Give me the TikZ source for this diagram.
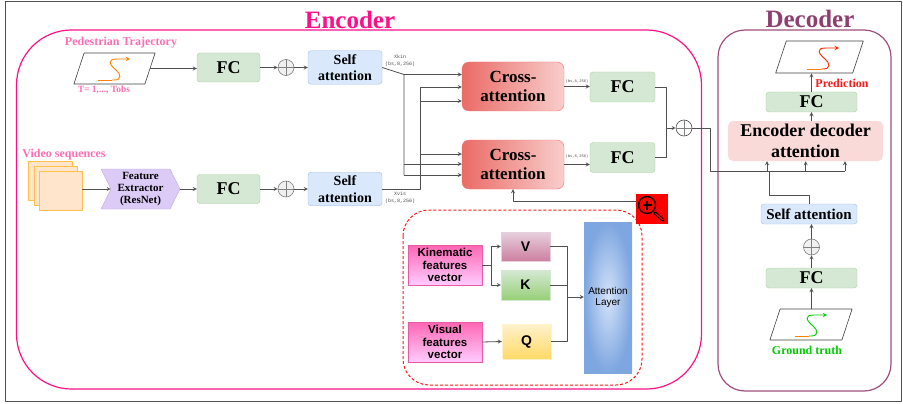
\documentclass[tikz,border=0pt]{standalone}
\usepackage{fontspec}
\setmainfont{Liberation Serif}
\setsansfont{Liberation Sans}
\setmonofont{Liberation Mono}
\usetikzlibrary{shapes.symbols}
\definecolor{lineg}{HTML}{505050}
\definecolor{enccol}{HTML}{FF1088}
\definecolor{deccol}{HTML}{A04F7C}
\definecolor{dectext}{HTML}{8F3F6E}
\definecolor{labpink}{HTML}{FF6EB4}
\definecolor{fcedge}{HTML}{A9CF9A}
\definecolor{fcback}{HTML}{D5E8D4}
\definecolor{selfedge}{HTML}{9DBCE8}
\definecolor{selfback}{HTML}{DAE8FC}
\definecolor{crossedge}{HTML}{FF6F6F}
\definecolor{crossl}{HTML}{EA6B66}
\definecolor{crossr}{HTML}{F8CECC}
\definecolor{vecedge}{HTML}{E85AA5}
\definecolor{vectop}{HTML}{FF66B3}
\definecolor{vecbot}{HTML}{FFCCFF}
\definecolor{vtop}{HTML}{E6D0DE}
\definecolor{vbot}{HTML}{CD7FA0}
\definecolor{kbot}{HTML}{97D077}
\definecolor{qtop}{HTML}{FFF2CC}
\definecolor{qbot}{HTML}{FFD966}
\definecolor{attout}{HTML}{7EA6E0}
\definecolor{attin}{HTML}{D4E3F9}
\definecolor{featback}{HTML}{DCCBF6}
\definecolor{featedge}{HTML}{BBA5E2}
\newcommand{\fsz}[2]{\fontsize{#1}{#2}\selectfont}
\begin{document}
\begin{tikzpicture}[x=1pt,y=-1pt,line join=round,>=stealth,
    arr/.style={->,draw=lineg,line width=.8pt},
    wire/.style={draw=lineg,line width=.8pt},
    base/.style={inner sep=0pt,align=center},
    fcbox/.style={base,rounded corners=3pt,draw=fcedge,fill=fcback,font=\bfseries\fsz{18}{18}},
    selfbox/.style={base,rounded corners=3pt,draw=selfedge,fill=selfback},
    crossbox/.style={base,rounded corners=7pt,draw=crossedge,left color=crossl,right color=crossr,
        minimum width=102,minimum height=49,font=\bfseries\fsz{17}{19}},
    para/.style={xslant=.33,transform shape,draw=black!75,line width=.6pt,inner sep=0pt},
    sum/.style={circle,draw=gray,fill=black!6,minimum size=16,inner sep=0pt,line width=.6pt},
    sumb/.style={circle,draw=black!70,minimum size=16,inner sep=0pt,line width=.6pt},
    vecbox/.style={font=\sffamily\bfseries\fsz{11.5}{12.8},align=center,inner sep=0pt,draw=vecedge,
        top color=vectop,bottom color=vecbot,minimum width=74,minimum height=40},
    keybox/.style={font=\sffamily\bfseries\fsz{14}{14},inner sep=0pt,minimum width=49},
    head/.style={font=\bfseries\fsz{12}{12},inner sep=0pt},
    tiny/.style={font=\ttfamily\fsz{5}{7},align=center,inner sep=0pt,text=black!70}]
\useasboundingbox (0,0) rectangle (903,404);
\draw[lineg,line width=1pt] (5.5,2) rectangle (901,401);
\draw[enccol,line width=1.2pt,rounded corners=55pt] (16.5,30) rectangle (701.5,389);
\draw[deccol,line width=1.2pt,rounded corners=27pt] (718,30) rectangle (891,391);
\node[font=\bfseries\fsz{25}{25},text=enccol,inner sep=0pt] (enctitle) at (350,20) {Encoder};
\node[font=\bfseries\fsz{25}{25},text=dectext,inner sep=0pt] (dectitle) at (810,19) {Decoder};
% inputs
\node[head,text=labpink] (trajlab) at (121,43) {Pedestrian Trajectory};
\node[para,minimum width=71,minimum height=31] (traj) at (114.5,68.5) {};
\node[font=\bfseries\fsz{9.5}{9.5},text=labpink,inner sep=0pt] (tobs) at (104,90) {T= 1,..., Tobs};
\node[head,text=labpink] (vidlab) at (64,155) {Video sequences};
\foreach \n/\x/\y in {vida/50/180.5,vidb/55.5/185.5,vidc/60.5/190.5}
    \node[draw=orange!70!yellow!70,fill=orange!20!white,minimum width=43.5,minimum height=39,inner sep=0pt] (\n) at (\x,\y) {};
\node[signal,signal to=east,signal from=west,signal pointer angle=127,draw=featedge,fill=featback,
    minimum width=79,minimum height=40,inner sep=0pt,font=\bfseries\fsz{11}{12.3},align=center] (feat) at (140.5,189)
    {Feature\\Extractor\\(ResNet)};
\foreach \n/\y in {fca/67.5,fcb/189}
    \node[fcbox,minimum width=63,minimum height=29] (\n) at (228.5,\y) {FC};
\node[sum] (suma) at (286,67.5) {};
\node[sum] (sumb) at (286,189) {};
\foreach \n/\y in {sela/67.5,selb/189}
    \node[selfbox,minimum width=74,minimum height=33.5,font=\bfseries\fsz{14}{16.5}] (\n) at (345,\y) {Self\\attention};
\node[tiny] (kinlab) at (400,60.5) {Xkin\\(bs,8,256)};
\node[tiny] (vislab) at (400,197.5) {Xvis\\(bs,8,256)};
\node[crossbox] (crossa) at (513,86.5) {Cross-\\attention};
\node[crossbox] (crossb) at (513,164.5) {Cross-\\attention};
\node[fcbox,minimum width=65,minimum height=30] (fcc) at (622.5,87) {FC};
\node[fcbox,minimum width=65,minimum height=30] (fcd) at (622.5,157.5) {FC};
\node[tiny,font=\ttfamily\fsz{3.8}{4}] (outa) at (577,82) {(bs,8,256)};
\node[tiny,font=\ttfamily\fsz{3.8}{4}] (outb) at (577,157) {(bs,8,256)};
\node[sumb] (sumc) at (684,128) {};
% attention block
\draw[red!90,line width=1pt,dash pattern=on 3pt off 2pt,rounded corners=26pt] (403,210) rectangle (642,385);
\node[vecbox] (kinvec) at (445,265) {Kinematic\\features\\vector};
\node[vecbox] (visvec) at (445,342) {Visual\\features\\vector};
\node[keybox,minimum height=29,draw=vtop,top color=vtop,bottom color=vbot] (keyv) at (525.5,246.5) {V};
\node[keybox,minimum height=30,draw=fcback,top color=fcback,bottom color=kbot] (keyk) at (525.5,285) {K};
\node[keybox,minimum height=35,draw=qtop,top color=qtop,bottom color=qbot] (keyq) at (526.5,341.5) {Q};
\node[inner sep=0pt,minimum width=48,minimum height=151,inner color=attin,outer color=attout,
    font=\sffamily\fsz{10}{11.5},align=center] (attlayer) at (608,297.5) {Attention\\Layer};
\node[fill=red,minimum width=32,minimum height=30,inner sep=0pt] (zoomtag) at (652,209) {};
\draw[line width=1.4pt] (647,205) circle (8.5);
\draw[line width=1.2pt] (642.5,205) -- (651.5,205) (647,200.5) -- (647,209.5);
\draw[line width=3.2pt,line cap=round] (655,213) -- (663,220);
\draw[red,line width=1.2pt,line cap=round] (655.5,213.5) -- (662.5,219.5);
% decoder
\node[para,minimum width=77,minimum height=32] (predpar) at (819.5,57) {};
\node[head,text=red!90] (predlab) at (842,83) {Prediction};
\node[fcbox,minimum width=91,minimum height=20] (fce) at (811.5,102) {FC};
\node[base,fill=crossr!75!white,rounded corners=5pt,minimum width=155,minimum height=40,font=\bfseries\fsz{18}{21}] (encdec) at (805.5,141) {Encoder decoder\\attention};
\node[selfbox,minimum width=96,minimum height=20,font=\bfseries\fsz{15}{15}] (selc) at (809,214) {Self attention};
\node[sum] (sumd) at (811.5,247) {};
\node[fcbox,minimum width=91,minimum height=20] (fcf) at (811.5,278) {FC};
\node[para,minimum width=72,minimum height=31] (gtpar) at (811,324.5) {};
\node[head,text=green!80!black] (gtlab) at (807,350) {Ground truth};
% the S curves
\foreach \cx/\cy/\cola/\colb in {98/80/orange/orange,807/69/orange/red!70!orange,795/336/orange/green!80!black} {
    \draw[\cola,line width=.9pt,shift={(\cx,\cy)}] (0,0) -- (14,0);
    \draw[->,\colb,line width=.9pt,shift={(\cx,\cy)}] (14,0) -- (16,0) .. controls (24,0) and (23,-6) .. (18,-10)
        .. controls (12,-15) and (8,-21) .. (19,-21) -- (32,-21);
}
\foreach \n in {suma,sumb,sumc,sumd}
    \draw[gray,line width=.5pt] (\n.north) -- (\n.south) (\n.west) -- (\n.east);
% connectors
\draw[arr] (traj.east) -- (traj.east -| fca.west);
\draw[arr] (feat.west -| vidc.east) -- (feat.west);
\draw[arr] (feat.east) -- (fcb.west);
\draw[arr] (fca.east) -- (suma.west);
\draw[arr] (fcb.east) -- (sumb.west);
\draw[arr] (suma.east) -- (sela.west);
\draw[arr] (sumb.east) -- (selb.west);
\coordinate (kina) at (404,74.5);
\coordinate (kinb) at (404,164);
\coordinate (kinc) at (404,175);
\coordinate (visa) at (420,189);
\coordinate (visb) at (420,87);
\coordinate (visc) at (420,101);
\coordinate (visd) at (420,154);
\draw[wire] (sela.east) -- (kina) -- (kinc);
\draw[wire] (selb.east) -- (visa) -- (visb);
\foreach \p/\t in {kina/crossa,visb/crossa,visc/crossa,visd/crossb,kinb/crossb,kinc/crossb}
    \draw[arr] (\p) -- (\p -| \t.west);
\draw[arr] (crossa.east) -- (crossa.east -| fcc.west);
\draw[arr] (crossb.east) -- (crossb.east -| fcd.west);
\coordinate (mergeb) at (666,128);
\draw[wire] (fcc.east) -| (mergeb);
\draw[wire] (fcd.east) -| (mergeb);
\draw[arr] (mergeb) -- (sumc.west);
\coordinate (zoomout) at (636,201.5);
\draw[arr] (zoomout) -| (crossb.south);
\coordinate (tapk) at (491.7,265);
\draw[wire] (kinvec.east) -- (tapk);
\draw[arr] (tapk) |- (keyv.west);
\draw[arr] (tapk) |- (keyk.west);
\draw[arr] (visvec.east) -- (keyq.west);
\coordinate (joina) at (567,297);
\draw[wire] (keyv.east) -| (joina);
\draw[wire] (keyk.east) -| (joina);
\draw[wire] (keyq.east) -| (joina);
\draw[arr] (joina) -- (joina -| attlayer.west);
% decoder connectors
\coordinate (busa) at (710,171);
\coordinate (busb) at (845,171);
\coordinate (tapa) at (767,171);
\coordinate (tapb) at (805.7,171);
\draw[wire] (sumc.east) -| (busa) -- (busb);
\foreach \p in {tapa,tapb,busb}
    \draw[arr] (\p) -- (\p |- encdec.south);
\coordinate (bendc) at (769,195.3);
\draw[wire] (selc.north) |- (bendc) -- (769,171);
\draw[arr] (fce.south |- encdec.north) -- (fce.south);
\draw[arr] (fce.north) -- (fce.north |- predpar.south);
\draw[arr] (gtpar.north -| fcf.south) -- (fcf.south);
\draw[arr] (fcf.north) -- (sumd.south);
\draw[arr] (sumd.north) -- (sumd.north |- selc.south);
\end{tikzpicture}
\end{document}
